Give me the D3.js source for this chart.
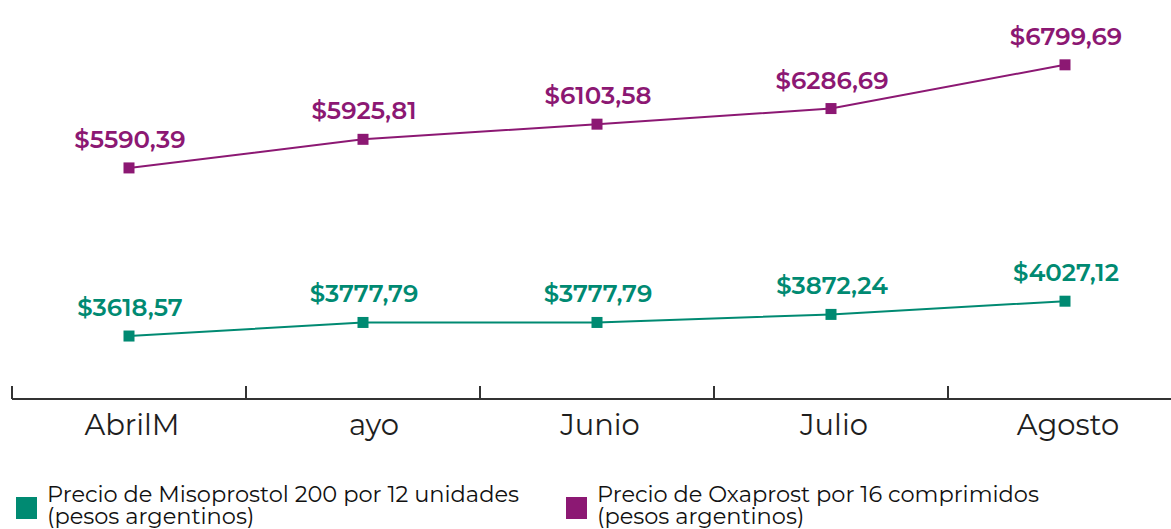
<!doctype html>
<html lang="es">
<head>
  <meta charset="UTF-8">
  <script src="https://cdn.jsdelivr.net/npm/d3@7"></script>
  <title>Precios</title>
  <style>
    body{ margin:0; background:#fff; }
    .chart svg{ display:block; font-family: Montserrat, "Noto Sans", "Open Sans", sans-serif; }
  </style>
</head>
<body>
  <div class="chart"></div>
  <script>
    // data
    const months = ['AbrilM', 'ayo', 'Junio', 'Julio', 'Agosto'];
    const miso = [3618.57, 3777.79, 3777.79, 3872.24, 4027.12];
    const oxa = [5590.39, 5925.81, 6103.58, 6286.69, 6799.69];
    const seriesNames = ['Precio de Misoprostol 200 por 12 unidades', 'Precio de Oxaprost por 16 comprimidos'];
    const green = '#008a72', purple = '#8c1873';

    const W = 1171, H = 529;
    const axisY = 399;
    const svg = d3.select('.chart').append('svg').attr('width', W).attr('height', H);

    const x = d3.scaleBand().domain(months).range([12, 1182]).paddingInner(0).paddingOuter(0);
    const y = d3.scaleLinear().domain([2880, 7560]).range([axisY, 0]);
    const cx = d => x(d) + x.bandwidth() / 2;
    const fmt = v => '$' + v.toFixed(2).replace('.', ',');

    // axis
    const ax = svg.append('g');
    ax.append('line').attr('x1', x.range()[0]).attr('x2', W).attr('y1', axisY).attr('y2', axisY)
      .attr('stroke', '#333').attr('stroke-width', 2);
    ax.selectAll('line.tick').data(months).enter().append('line').attr('class', 'tick')
      .attr('x1', d => x(d)).attr('x2', d => x(d)).attr('y1', axisY).attr('y2', axisY - 13)
      .attr('stroke', '#333').attr('stroke-width', 2);
    ax.selectAll('text').data(months).enter().append('text')
      .attr('x', d => cx(d) + (d === 'ayo' ? 11 : 3)).attr('y', 435)
      .attr('text-anchor', 'middle').attr('font-size', 29).attr('fill', '#1e1e1e')
      .text(d => d);

    const line = d3.line().x((d, i) => cx(months[i])).y(d => y(d));

    [[miso, green], [oxa, purple]].forEach(([vals, col]) => {
      const g = svg.append('g');
      g.append('path').datum(vals).attr('d', line).attr('fill', 'none')
        .attr('stroke', col).attr('stroke-width', 2);
      g.selectAll('rect').data(vals).enter().append('rect')
        .attr('x', (d, i) => cx(months[i]) - 5.5).attr('y', d => y(d) - 5.5)
        .attr('width', 11).attr('height', 11).attr('fill', col);
      g.selectAll('text').data(vals).enter().append('text')
        .attr('x', (d, i) => cx(months[i]) + 1).attr('y', d => y(d) - 20)
        .attr('text-anchor', 'middle').attr('font-size', 24.5).attr('font-weight', 600)
        .attr('fill', col).text(fmt);
    });

    // legend
    const leg = svg.append('g');
    const legX = [16, 566];
    [green, purple].forEach((col, i) => {
      const lg = leg.append('g').attr('transform', `translate(${legX[i]},0)`);
      lg.append('rect').attr('x', 0).attr('y', 497).attr('width', 21).attr('height', 22).attr('fill', col);
      const t = lg.append('text').attr('x', 31).attr('y', 502).attr('font-size', 22.5).attr('fill', '#111');
      t.append('tspan').attr('x', 31).text(seriesNames[i]);
      t.append('tspan').attr('x', 31).attr('dy', 22).text('(pesos argentinos)');
    });
  </script>
</body>
</html>
